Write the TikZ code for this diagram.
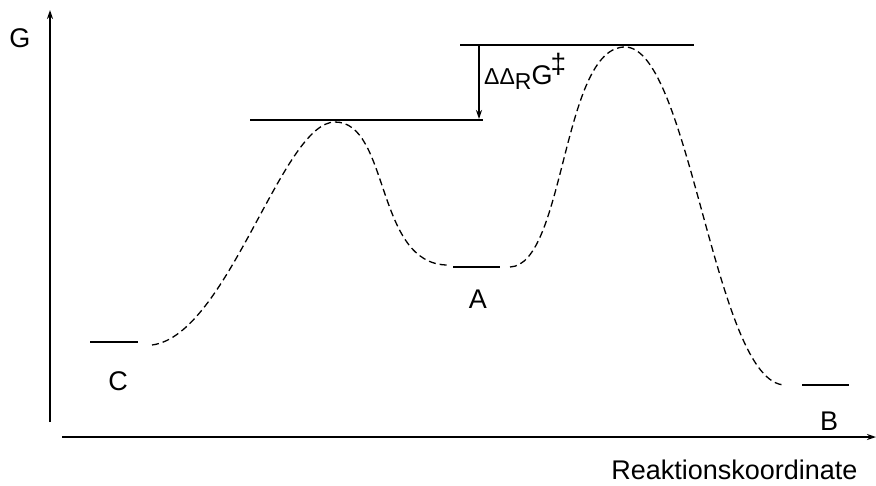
\documentclass[tikz,border=0pt]{standalone}
\usepackage{fontspec}
\setmainfont{Liberation Sans}
\usetikzlibrary{arrows.meta}

\begin{document}
\begin{tikzpicture}[>={Stealth[length=9pt,width=6pt]}, x=1pt, y=-1pt,
		level/.style={line width=1.4pt},
		axis/.style={line width=1.8pt, ->},
		profile/.style={line width=1.3pt, dash pattern=on 7pt off 4pt},
		lbl/.style={font=\fontsize{27}{31}\selectfont}]
			\useasboundingbox (0,0) rectangle (876,485);

			% axes
			\coordinate (yb) at (50,422);
			\coordinate (yt) at (50,10);
			\coordinate (xl) at (62,437);
			\coordinate (xr) at (876,437);
			\draw[axis] (yb) -- (yt);
			\draw[axis] (xl) -- (xr);
			\node (G) [lbl] at (20,38) {G};
			\node (RK) [lbl, anchor=east] at (861,470) {Reaktionskoordinate};

			% energy levels
			\coordinate (C1) at (90,342);  \coordinate (C2) at (138,342);
			\coordinate (A1) at (453,267); \coordinate (A2) at (500,267);
			\coordinate (B1) at (802,385); \coordinate (B2) at (849,385);
			\coordinate (T1) at (250,120); \coordinate (T2) at (483,120);
			\coordinate (U1) at (460,45);  \coordinate (U2) at (694,45);
			\draw[level] (C1) -- (C2);
			\draw[level] (A1) -- (A2);
			\draw[level] (B1) -- (B2);
			\draw[level] (T1) -- (T2);
			\draw[level] (U1) -- (U2);

			\node (C) [lbl] at (118,381) {C};
			\node (A) [lbl] at (478,299) {A};
			\node (B) [lbl] at (829,421) {B};

			% reaction path
			\draw[profile] (152,345) .. controls (228,335) and (282,122) .. (335,122)
				.. controls (390,122) and (375,265) .. (448,265);
			\draw[profile] (510,267) .. controls (565,265) and (562,47) .. (625,47)
				.. controls (690,47) and (715,384) .. (785,385);

			% barrier difference
			\coordinate (dt) at (479,45);
			\coordinate (db) at (479,119);
			\draw[line width=1.4pt, ->] (dt) -- (db);
			\node (dG) [anchor=base west, inner sep=0pt, font=\fontsize{27}{31}\selectfont] at (484,84)
				{{\fontsize{23}{26}\selectfont ΔΔ\raisebox{-5pt}{R}}G\kern-2pt\raisebox{11pt}{\fontsize{28}{30}\selectfont ‡}};
		\end{tikzpicture}
\end{document}
